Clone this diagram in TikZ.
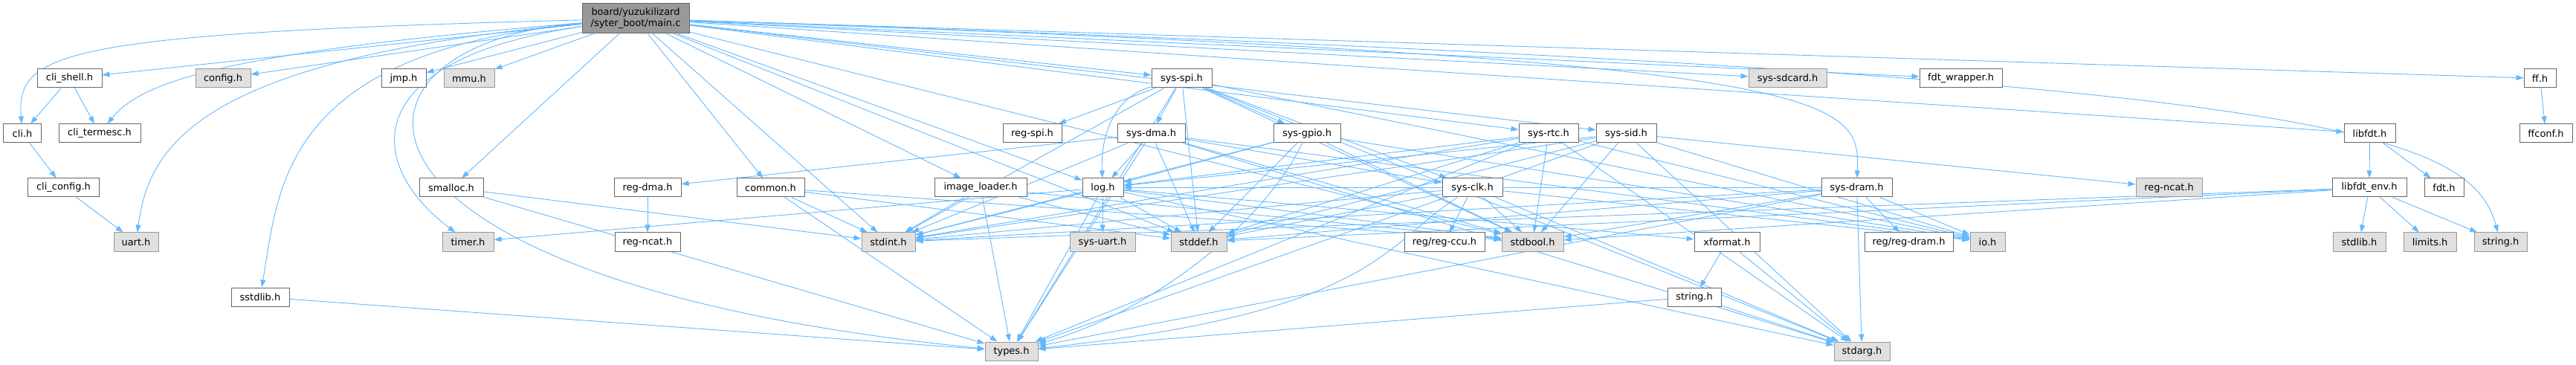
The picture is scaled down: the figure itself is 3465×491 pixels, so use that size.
\documentclass[tikz,border=0pt]{standalone}
\usepackage{fontspec}
\setmainfont{DejaVu Sans}
\usetikzlibrary{arrows.meta,backgrounds}
\definecolor{edgeblue}{HTML}{63B8FF}
\definecolor{boxline}{HTML}{666666}
\definecolor{extline}{HTML}{999999}
\definecolor{extfill}{HTML}{E0E0E0}
\definecolor{rootfill}{HTML}{999999}
\tikzset{
  hdr/.style={draw=boxline, fill=white, line width=1bp, minimum height=25bp, inner sep=0pt, font=\fontsize{13}{15}\selectfont},
  ext/.style={hdr, draw=extline, fill=extfill},
  root/.style={hdr, fill=rootfill, minimum height=40bp, align=center},
  dep/.style={draw=edgeblue, line width=0.9bp, -{Triangle[length=10bp,width=7bp]}},
}
\begin{document}
\begin{tikzpicture}[x=1bp,y=-1bp]
 \useasboundingbox (0,0) rectangle (3465,491);
 % files
 \node[root, minimum width=144bp] (main) at (855,25) {board/yuzukilizard\\/syter\_boot/main.c};
 \node[hdr, minimum width=87bp] (clishell) at (93.5,105.5) {cli\_shell.h};
 \node[ext, minimum width=74bp] (config) at (300,105.5) {config.h};
 \node[hdr, minimum width=60bp] (jmp) at (543,105.5) {jmp.h};
 \node[ext, minimum width=68bp] (mmu) at (631,105.5) {mmu.h};
 \node[hdr, minimum width=81bp] (sysspi) at (1589.5,105.5) {sys-spi.h};
 \node[ext, minimum width=105bp] (syssdcard) at (2404.5,105.5) {sys-sdcard.h};
 \node[hdr, minimum width=111bp] (fdtwrapper) at (2637.5,105.5) {fdt\_wrapper.h};
 \node[hdr, minimum width=43bp] (ffh) at (3416.5,105.5) {ff.h};
 \node[hdr, minimum width=50bp] (clih) at (30,179.5) {cli.h};
 \node[hdr, minimum width=110bp] (clitermesc) at (134,179.5) {cli\_termesc.h};
 \node[hdr, minimum width=79bp] (regspi) at (1388.5,179.5) {reg-spi.h};
 \node[hdr, minimum width=91bp] (sysdma) at (1548.5,179.5) {sys-dma.h};
 \node[hdr, minimum width=90bp] (sysgpio) at (1758,179.5) {sys-gpio.h};
 \node[hdr, minimum width=80bp] (sysrtc) at (2083,179.5) {sys-rtc.h};
 \node[hdr, minimum width=81bp] (syssid) at (2187.5,179.5) {sys-sid.h};
 \node[hdr, minimum width=69bp] (libfdt) at (3187.5,179.5) {libfdt.h};
 \node[hdr, minimum width=71bp] (ffconf) at (3424.5,179.5) {ffconf.h};
 \node[hdr, minimum width=95bp] (cliconfig) at (85.5,252.5) {cli\_config.h};
 \node[hdr, minimum width=86bp] (smalloc) at (607,252.5) {smalloc.h};
 \node[hdr, minimum width=90bp] (regdma) at (871,252.5) {reg-dma.h};
 \node[hdr, minimum width=91bp] (common) at (1036.5,252.5) {common.h};
 \node[hdr, minimum width=124bp] (imgloader) at (1319,252.5) {image\_loader.h};
 \node[hdr, minimum width=55bp] (log) at (1483.5,252.5) {log.h};
 \node[hdr, minimum width=81bp] (sysclk) at (1980.5,252.5) {sys-clk.h};
 \node[hdr, minimum width=95bp] (sysdram) at (2497.5,252.5) {sys-dram.h};
 \node[ext, minimum width=89bp] (regncatg) at (2917.5,252.5) {reg-ncat.h};
 \node[hdr, minimum width=100bp] (libfdtenv) at (3187,252.5) {libfdt\_env.h};
 \node[hdr, minimum width=53bp] (fdth) at (3287.5,252.5) {fdt.h};
 \node[ext, minimum width=60bp] (uart) at (183,325.5) {uart.h};
 \node[ext, minimum width=69bp] (timer) at (629.5,325.5) {timer.h};
 \node[hdr, minimum width=88bp] (regncatw) at (871,325.5) {reg-ncat.h};
 \node[ext, minimum width=72bp] (stdint) at (1195,325.5) {stdint.h};
 \node[ext, minimum width=88bp] (sysuart) at (1483,325.5) {sys-uart.h};
 \node[ext, minimum width=75bp] (stddef) at (1612.5,325.5) {stddef.h};
 \node[hdr, minimum width=108bp] (regccu) at (1943,325.5) {reg/reg-ccu.h};
 \node[ext, minimum width=83bp] (stdbool) at (2061.5,325.5) {stdbool.h};
 \node[hdr, minimum width=88bp] (xformat) at (2323,325.5) {xformat.h};
 \node[hdr, minimum width=119bp] (regdram) at (2567.5,325.5) {reg/reg-dram.h};
 \node[ext, minimum width=47bp] (io) at (2673.5,325.5) {io.h};
 \node[ext, minimum width=71bp] (stdlib) at (3173.5,325.5) {stdlib.h};
 \node[ext, minimum width=71bp] (limits) at (3268.5,325.5) {limits.h};
 \node[ext, minimum width=71bp] (stringg) at (3363.5,325.5) {string.h};
 \node[hdr, minimum width=78bp] (sstdlib) at (350,399.5) {sstdlib.h};
 \node[hdr, minimum width=72bp] (stringw) at (2279,399.5) {string.h};
 \node[ext, minimum width=71bp] (types) at (1360.5,472.5) {types.h};
 \node[ext, minimum width=75bp] (stdarg) at (2504.5,472.5) {stdarg.h};
 \begin{pgfonlayer}{background}
 % main.c
 \draw[dep] (main) .. controls (80,45) and (22,70) .. (clih);
 \draw[dep] (main) -- (clishell);
 \draw[dep] (main) .. controls (300,70) and (190,110) .. (clitermesc);
 \draw[dep] (main) .. controls (260,80) and (200,200) .. (uart);
 \draw[dep] (main) -- (config);
 \draw[dep] (main) -- (jmp);
 \draw[dep] (main) -- (mmu);
 \draw[dep] (main) .. controls (380,70) and (375,250) .. (sstdlib);
 \draw[dep] (main) .. controls (420,60) and (420,380) .. (types);
 \draw[dep] (main) .. controls (480,80) and (490,220) .. (timer);
 \draw[dep] (main) -- (smalloc);
 \draw[dep] (main) -- (common);
 \draw[dep] (main) -- (imgloader);
 \draw[dep] (main) -- (log);
 \draw[dep] (main) -- (stdint);
 \draw[dep] (main) -- (stddef);
 \draw[dep] (main) -- (stdbool);
 \draw[dep] (main) -- (sysspi);
 \draw[dep] (main) -- (sysrtc);
 \draw[dep] (main) -- (syssid);
 \draw[dep] (main) -- (syssdcard);
 \draw[dep] (main) .. controls (2480,80) and (2502,130) .. (sysdram);
 \draw[dep] (main) -- (fdtwrapper);
 \draw[dep] (main) -- (libfdt);
 \draw[dep] (main) -- (ffh);
 \draw[dep] (main) .. controls (3100,100) and (3320,170) .. (stringg);
 % cli
 \draw[dep] (clishell) -- (clih);
 \draw[dep] (clishell) -- (clitermesc);
 \draw[dep] (clih) -- (cliconfig);
 \draw[dep] (cliconfig) -- (uart);
 % small headers
 \draw[dep] (sstdlib) -- (types);
 \draw[dep] (smalloc) -- (stdint);
 \draw[dep] (smalloc) -- (types);
 \draw[dep] (regdma) -- (regncatw);
 \draw[dep] (common) -- (stdint);
 \draw[dep] (common) -- (types);
 \draw[dep] (common) -- (stddef);
 \draw[dep] (common) -- (stdbool);
 \draw[dep] (imgloader) -- (stdint);
 \draw[dep] (imgloader) -- (types);
 \draw[dep] (imgloader) -- (stddef);
 \draw[dep] (imgloader) -- (stdbool);
 % log.h
 \draw[dep] (log) -- (timer);
 \draw[dep] (log) -- (sysuart);
 \draw[dep] (log) -- (stdint);
 \draw[dep] (log) -- (types);
 \draw[dep] (log) -- (stddef);
 \draw[dep] (log) -- (stdbool);
 \draw[dep] (log) -- (xformat);
 \draw[dep] (log) -- (stdarg);
 % sys-spi.h
 \draw[dep] (sysspi) -- (regspi);
 \draw[dep] (sysspi) -- (sysdma);
 \draw[dep] (sysspi) -- (sysgpio);
 \draw[dep] (sysspi) .. controls (1500,130) and (1480,180) .. (log);
 \draw[dep] (sysspi) -- (stddef);
 \draw[dep] (sysspi) -- (stdint);
 \draw[dep] (sysspi) -- (types);
 \draw[dep] (sysspi) -- (stdbool);
 \draw[dep] (sysspi) -- (sysclk);
 \draw[dep] (sysspi) -- (io);
 \draw[dep] (sysspi) -- (stdarg);
 % sys-dma.h
 \draw[dep] (sysdma) -- (regdma);
 \draw[dep] (sysdma) -- (log);
 \draw[dep] (sysdma) -- (stddef);
 \draw[dep] (sysdma) -- (stdint);
 \draw[dep] (sysdma) -- (types);
 \draw[dep] (sysdma) -- (sysclk);
 \draw[dep] (sysdma) -- (stdbool);
 \draw[dep] (sysdma) -- (io);
 \draw[dep] (sysdma) -- (stdarg);
 % sys-gpio.h
 \draw[dep] (sysgpio) -- (log);
 \draw[dep] (sysgpio) -- (stddef);
 \draw[dep] (sysgpio) -- (stdint);
 \draw[dep] (sysgpio) .. controls (1700,300) and (1550,420) .. (types);
 \draw[dep] (sysgpio) -- (stdbool);
 \draw[dep] (sysgpio) -- (io);
 % sys-clk.h
 \draw[dep] (sysclk) -- (regccu);
 \draw[dep] (sysclk) -- (stddef);
 \draw[dep] (sysclk) -- (stdint);
 \draw[dep] (sysclk) .. controls (1860,330) and (1850,420) .. (types);
 \draw[dep] (sysclk) -- (stdbool);
 \draw[dep] (sysclk) -- (io);
 \draw[dep] (sysclk) -- (stdarg);
 % sys-rtc.h
 \draw[dep] (sysrtc) -- (log);
 \draw[dep] (sysrtc) -- (stdint);
 \draw[dep] (sysrtc) -- (stdbool);
 \draw[dep] (sysrtc) -- (stddef);
 \draw[dep] (sysrtc) -- (io);
 \draw[dep] (sysrtc) -- (types);
 \draw[dep] (sysrtc) -- (stdarg);
 % sys-sid.h
 \draw[dep] (syssid) -- (regncatg);
 \draw[dep] (syssid) -- (log);
 \draw[dep] (syssid) -- (stdint);
 \draw[dep] (syssid) -- (stdbool);
 \draw[dep] (syssid) -- (stddef);
 \draw[dep] (syssid) -- (io);
 \draw[dep] (syssid) -- (types);
 \draw[dep] (syssid) -- (stdarg);
 % sys-dram.h
 \draw[dep] (sysdram) -- (regdram);
 \draw[dep] (sysdram) -- (stdarg);
 \draw[dep] (sysdram) -- (stddef);
 \draw[dep] (sysdram) -- (stdbool);
 \draw[dep] (sysdram) -- (stdint);
 \draw[dep] (sysdram) -- (types);
 \draw[dep] (sysdram) -- (io);
 \draw[dep] (sysdram) -- (log);
 % xformat.h, string.h
 \draw[dep] (xformat) -- (stringw);
 \draw[dep] (xformat) -- (stdarg);
 \draw[dep] (stringw) -- (types);
 \draw[dep] (stringw) -- (stdarg);
 % libfdt, ff
 \draw[dep] (libfdt) -- (libfdtenv);
 \draw[dep] (libfdt) -- (fdth);
 \draw[dep] (libfdtenv) -- (stdlib);
 \draw[dep] (libfdtenv) -- (limits);
 \draw[dep] (libfdtenv) -- (stringg);
 \draw[dep] (libfdtenv) -- (stdint);
 \draw[dep] (libfdtenv) -- (stddef);
 \draw[dep] (libfdtenv) -- (stdbool);
 \draw[dep] (ffh) -- (ffconf);
 \end{pgfonlayer}
\end{tikzpicture}
\end{document}
